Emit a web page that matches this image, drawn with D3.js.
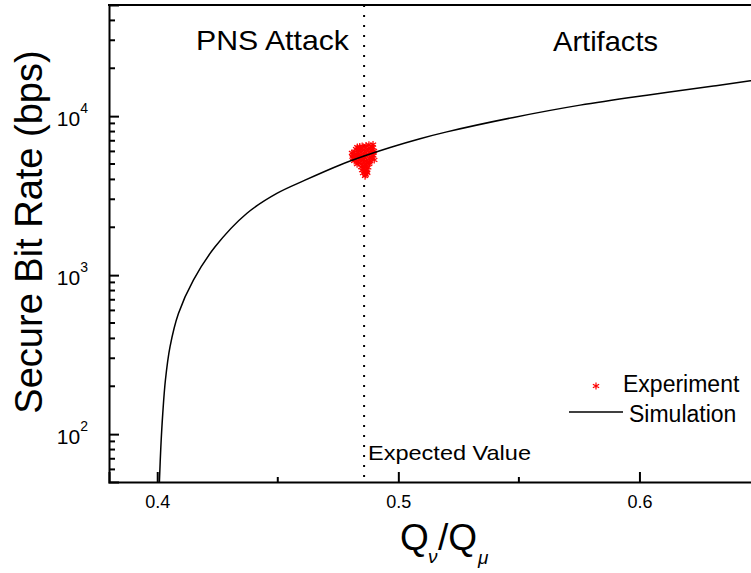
<!DOCTYPE html>
<html>
<head>
<meta charset="utf-8">
<script src="https://cdn.jsdelivr.net/npm/d3@7"></script>
<style>
  html, body { margin: 0; padding: 0; background: #fff; }
  svg { display: block; font-family: "Liberation Sans", Arial, sans-serif; }
</style>
</head>
<body>
<div id="chart"></div>
<script>
// Simulation curve
const simX = [0.4009, 0.4015, 0.4023, 0.4034, 0.4053, 0.4088, 0.4150, 0.4240, 0.4371,
  0.4496, 0.4613, 0.4758, 0.4858, 0.4966, 0.5090, 0.5201, 0.5478, 0.5754,
  0.6031, 0.6307, 0.6460, 0.6500];
const simY = [50, 83, 135, 219, 354, 574, 931, 1507, 2443,
  3266, 3955, 4930, 5610, 6350, 7210, 7960, 9817, 11730,
  13550, 15450, 16670, 16980];

// Experiment points (red asterisks cluster)
const expX = [0.4850, 0.4866, 0.4887, 0.4893, 0.4825, 0.4841, 0.4858, 0.4874, 0.4891,
  0.4817, 0.4833, 0.4849, 0.4866, 0.4883, 0.4897, 0.4812, 0.4829, 0.4846, 0.4862,
  0.4879, 0.4896, 0.4813, 0.4829, 0.4846, 0.4862, 0.4879, 0.4892, 0.4817, 0.4833,
  0.4850, 0.4867, 0.4883, 0.4829, 0.4846, 0.4862, 0.4879, 0.4846, 0.4862, 0.4875,
  0.4850, 0.4867, 0.4854, 0.4871, 0.4862, 0.4838, 0.4855, 0.4870, 0.4822, 0.4888,
  0.4810, 0.4820, 0.4835, 0.4858, 0.4880, 0.4899, 0.4836, 0.4869, 0.4857, 0.4865,
  0.4830, 0.4840, 0.4878, 0.4895, 0.4808, 0.4900];
const expY = [6470, 6520, 6450, 6380, 6200, 6250, 6180, 6230, 6150,
  5950, 5900, 5980, 5920, 5960, 5900, 5700, 5660, 5720, 5680,
  5700, 5650, 5450, 5480, 5420, 5470, 5430, 5480, 5230, 5190,
  5250, 5200, 5230, 4990, 5010, 4960, 5000, 4780, 4800, 4760,
  4570, 4590, 4380, 4400, 4200, 5580, 5330, 5100, 5560, 5820,
  5560, 5340, 5080, 4880, 5120, 6050, 6080, 4480, 4680, 4290,
  6380, 6430, 6600, 6620, 5870, 5300];

const expectedValue = 0.4858;
const xTicks = [0.4, 0.5, 0.6];
const xMinor = [0.45, 0.55, 0.65];
const yTicks = [100, 1000, 10000];
const yMinor = [60, 70, 80, 90, 200, 300, 400, 500, 600, 700, 800, 900,
  2000, 3000, 4000, 5000, 6000, 7000, 8000, 9000, 20000, 30000, 40000];

const width = 751, height = 573;
const plot = { left: 109, right: 760, top: 5, bottom: 482 };

const svg = d3.select('#chart').append('svg')
  .attr('width', width)
  .attr('height', height);

const x = d3.scaleLinear().domain([0.38, 0.65]).range([plot.left, plot.right]);
const y = d3.scaleLog().domain([50, 50000]).range([plot.bottom, plot.top]);

svg.append('clipPath').attr('id', 'clip')
  .append('rect')
  .attr('x', plot.left).attr('y', plot.top)
  .attr('width', plot.right - plot.left).attr('height', plot.bottom - plot.top);

const g = svg.append('g').attr('clip-path', 'url(#clip)');

// dotted expected value line
g.append('line')
  .attr('x1', x(expectedValue)).attr('x2', x(expectedValue))
  .attr('y1', plot.top).attr('y2', plot.bottom)
  .attr('stroke', '#000').attr('stroke-width', 2)
  .attr('stroke-dasharray', '2 8');

// asterisk marker
const r = 3.6;
const star = `M0,${-r}L0,${r}M${-r * 0.87},${-r * 0.5}L${r * 0.87},${r * 0.5}M${-r * 0.87},${r * 0.5}L${r * 0.87},${-r * 0.5}`;

g.selectAll('.exp')
  .data(expX.map((v, i) => [v, expY[i]]))
  .join('path')
  .attr('class', 'exp')
  .attr('d', star)
  .attr('transform', d => `translate(${x(d[0])},${y(d[1])})`)
  .attr('stroke', '#ff0000').attr('stroke-width', 1.2).attr('fill', 'none');

// simulation line
const line = d3.line()
  .x(d => x(d[0]))
  .y(d => y(d[1]))
  .curve(d3.curveCatmullRom.alpha(0.5));

g.append('path')
  .datum(simX.map((v, i) => [v, simY[i]]))
  .attr('d', line)
  .attr('fill', 'none')
  .attr('stroke', '#000')
  .attr('stroke-width', 1.5);

// axes
const bottomAxis = svg.append('g').attr('transform', `translate(0,${plot.bottom})`)
  .call(d3.axisBottom(x).tickValues(xTicks).tickSize(-10).tickPadding(13).tickFormat(d3.format('.1f')));
bottomAxis.selectAll('text')
  .style('font-size', '18px')
  .style('font-family', '"Liberation Sans", Arial, sans-serif');
bottomAxis.append('g').selectAll('line')
  .data(xMinor).join('line')
  .attr('x1', d => x(d)).attr('x2', d => x(d))
  .attr('y1', 0).attr('y2', -5)
  .attr('stroke', '#000').attr('stroke-width', 2);

const leftAxis = svg.append('g').attr('transform', `translate(${plot.left},0)`)
  .call(d3.axisLeft(y).tickValues(yTicks).tickSize(-10).tickFormat(''));
leftAxis.append('g').selectAll('line')
  .data(yMinor).join('line')
  .attr('x1', 0).attr('x2', 6)
  .attr('y1', d => y(d)).attr('y2', d => y(d))
  .attr('stroke', '#000').attr('stroke-width', 2);

svg.selectAll('.domain').attr('stroke-width', 2);
svg.selectAll('.tick line').attr('stroke-width', 2);

// top frame
svg.append('line')
  .attr('x1', plot.left - 1).attr('x2', width)
  .attr('y1', plot.top).attr('y2', plot.top)
  .attr('stroke', '#000').attr('stroke-width', 2);

// y tick labels 10^n
const yl = svg.append('g');
yTicks.forEach(v => {
  const t = yl.append('text')
    .attr('x', 88).attr('y', y(v) + 10)
    .attr('text-anchor', 'end')
    .attr('font-size', 21);
  t.append('tspan').text('10');
  t.append('tspan').attr('dy', -13).attr('font-size', 14).text(Math.round(Math.log10(v)));
});

// y axis title
svg.append('text')
  .attr('transform', 'translate(42,232) rotate(-90)')
  .attr('text-anchor', 'middle')
  .attr('font-size', 38)
  .text('Secure Bit Rate (bps)');

// x axis title Q_nu / Q_mu
svg.append('text').attr('x', 400).attr('y', 550).attr('font-size', 37).text('Q');
svg.append('text').attr('x', 428).attr('y', 563).attr('font-size', 19).attr('font-style', 'italic').text('ν');
svg.append('text').attr('x', 438).attr('y', 550).attr('font-size', 37).text('/Q');
svg.append('text').attr('x', 478).attr('y', 564).attr('font-size', 19).attr('font-style', 'italic').text('μ');

// region labels
svg.append('text').attr('x', 196).attr('y', 50).attr('font-size', 28)
  .attr('textLength', 153).attr('lengthAdjust', 'spacingAndGlyphs').text('PNS Attack');
svg.append('text').attr('x', 553).attr('y', 51).attr('font-size', 28)
  .attr('textLength', 105).attr('lengthAdjust', 'spacingAndGlyphs').text('Artifacts');
svg.append('text').attr('x', 368).attr('y', 460).attr('font-size', 21)
  .attr('textLength', 163).attr('lengthAdjust', 'spacingAndGlyphs').text('Expected Value');

// legend
svg.append('path')
  .attr('d', star)
  .attr('transform', 'translate(596,386)')
  .attr('stroke', '#ff0000').attr('stroke-width', 1.2).attr('fill', 'none');
svg.append('text').attr('x', 623).attr('y', 392).attr('font-size', 23).text('Experiment');
svg.append('line')
  .attr('x1', 569).attr('x2', 623).attr('y1', 412).attr('y2', 412)
  .attr('stroke', '#000').attr('stroke-width', 1.5);
svg.append('text').attr('x', 629).attr('y', 422).attr('font-size', 23).text('Simulation');
</script>
</body>
</html>
